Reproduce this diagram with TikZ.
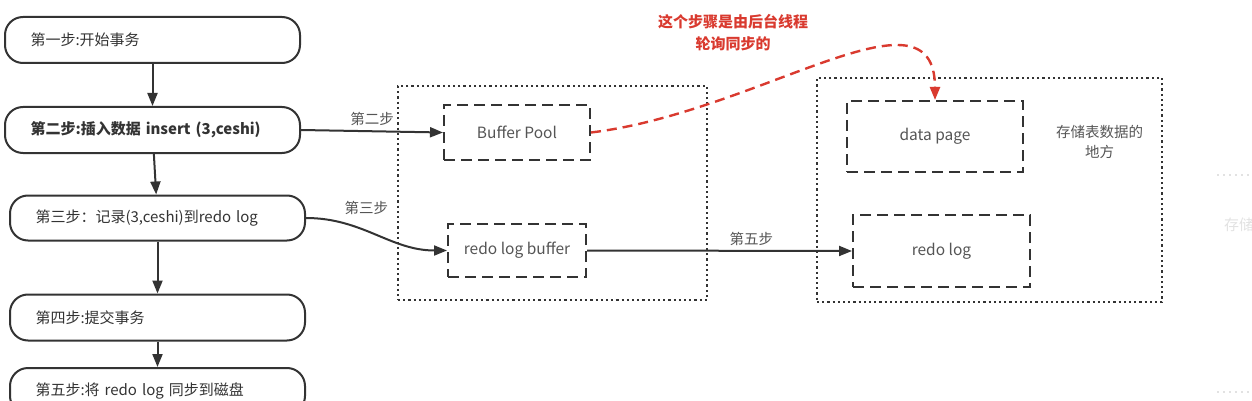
\documentclass[tikz,border=0pt]{standalone}
\usepackage{fontspec}
\setmainfont{Noto Sans CJK SC}
\usetikzlibrary{arrows.meta,positioning}
\definecolor{linegray}{HTML}{333333}
\definecolor{txtgray}{HTML}{555555}
\definecolor{syncred}{HTML}{D93A2F}
\definecolor{ghostgray}{HTML}{E2E2E2}

\begin{document}
\begin{tikzpicture}[
		x=1pt, y=-1pt,
		->,
		>={Triangle[length=13pt,width=10pt]},
		line width=2pt,
		color=linegray,
		font=\fontsize{15}{19}\selectfont,
		step node/.style={draw,rounded corners=18pt,minimum width=295pt,minimum height=46pt,text width=244pt,inner xsep=25.5pt,align=left,text=linegray},
		buf node/.style={draw,dash pattern=on 11pt off 6pt,text=txtgray,font=\fontsize{15.5}{19}\selectfont},
		area node/.style={draw,line width=2.2pt,dash pattern=on 2.2pt off 3pt},
		step label/.style={text=txtgray,font=\fontsize{14.5}{18}\selectfont,inner sep=2pt},
		sync line/.style={draw=syncred,line width=2.4pt,dash pattern=on 10pt off 6pt,-{Triangle[length=13pt,width=10pt]}}]

	\useasboundingbox (0,0) rectangle (1252,401);
	\clip (0,0) rectangle (1252,401);

	% left column
	\node[step node] (s1) at (152.5,40) {第一步:开始事务};
	\node[step node,font=\fontsize{15}{19}\selectfont\bfseries] (s2) at (152.5,130) {第二步:插入数据 insert (3,ceshi)};
	\node[step node,minimum height=45pt] (s3) at (157.5,218) {第三步：记录(3,ceshi)到redo log};
	\node[step node] (s4) at (157.5,317.5) {第四步:提交事务};
	\node[step node] (s5) at (157.5,391) {第五步:将 redo log 同步到磁盘};

	% memory
	\node[area node,minimum width=309pt,minimum height=214pt] (mem) at (552.5,193) {};
	\node[buf node,minimum width=146pt,minimum height=55pt] (bp) at (517,132.5) {Buffer Pool};
	\node[buf node,minimum width=138pt,minimum height=53pt] (rlb) at (517,250.5) {redo log buffer};

	% disk
	\node[area node,minimum width=345pt,minimum height=224pt] (disk) at (989.5,190) {};
	\node[buf node,minimum width=176pt,minimum height=71pt] (dp) at (935,136.5) {data page};
	\node[buf node,minimum width=177pt,minimum height=72pt] (rl) at (941.5,251) {redo log};
	\node[step label,align=center,font=\fontsize{14.5}{20}\selectfont] (diskinfo) at (1099.5,142) {存储表数据的\\地方};

	\path
		(s1) edge (s2)
		(s2) edge (s3)
		(s3) edge (s4)
		(s4) edge (s5)

		(s2.east) edge node[step label,midway,above=3pt] {第二步} (bp.west)
		(s3.east) edge[out=0,in=180] node[step label,pos=0.42,above=13pt] {第三步} (rlb.west)
		(rlb.east) edge node[step label,pos=0.62,above=2pt] {第五步} (rl.west)
	;

	% background thread
	\draw[sync line] (bp.east) .. controls (760,112) and (935,-22) .. (dp.north);
	\node[text=syncred,align=center,font=\fontsize{15}{22}\selectfont\bfseries] (syncinfo) at (733,33) {这个步骤是由后台线程\\轮询同步的};

	% faded part at the right edge
	\draw[-,ghostgray,line width=1.5pt,dash pattern=on 2pt off 4pt] (1217,175) -- (1252,175);
	\draw[-,ghostgray,line width=1.5pt,dash pattern=on 2pt off 4pt] (1217,392) -- (1252,392);
	\node[text=ghostgray,anchor=west,inner sep=0pt] (ghost) at (1223,225) {存储};
\end{tikzpicture}
\end{document}
